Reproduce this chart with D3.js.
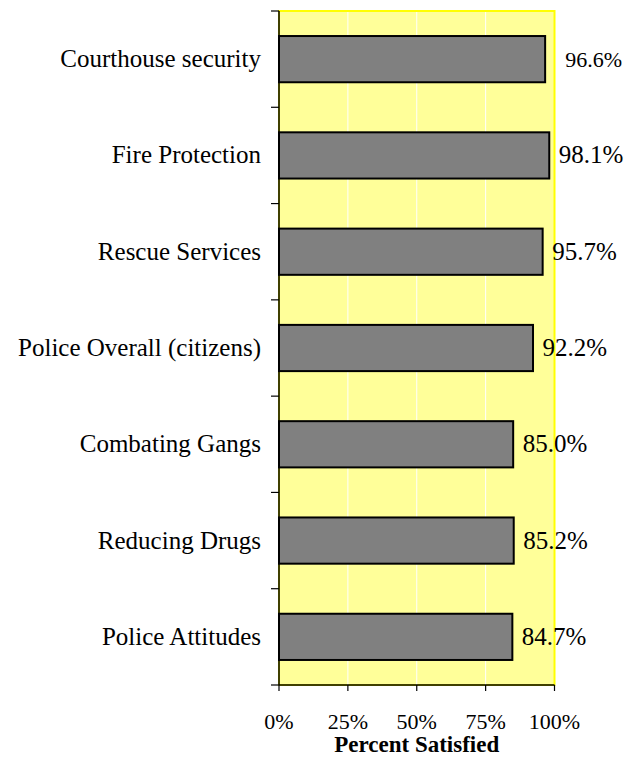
<!DOCTYPE html>
<html>
<head>
<meta charset="utf-8">
<script src="https://cdn.jsdelivr.net/npm/d3@7"></script>
<style>
  html, body { margin: 0; padding: 0; background: #ffffff; }
  svg { display: block; }
</style>
</head>
<body>
<svg id="chart" width="635" height="758"></svg>
<script>
// Satisfaction with public safety services
const categories = [
  "Courthouse security",
  "Fire Protection",
  "Rescue Services",
  "Police Overall (citizens)",
  "Combating Gangs",
  "Reducing Drugs",
  "Police Attitudes"
];
const satisfied = [96.6, 98.1, 95.7, 92.2, 85.0, 85.2, 84.7];
const xTicks = [0, 25, 50, 75, 100];
const xTitle = "Percent Satisfied";

const FONT = "'Liberation Serif', 'Times New Roman', 'DejaVu Serif', serif";

const svg = d3.select("#chart")
  .attr("font-family", FONT)
  .style("font-family", FONT);
const plot = { left: 279, right: 554.5, top: 11, bottom: 685 };

const x = d3.scaleLinear().domain([0, 100]).range([plot.left, plot.right]);
const y = d3.scaleBand().domain(categories).range([plot.top, plot.bottom]).paddingInner(0.52).paddingOuter(0.26);
const band = d3.scaleBand().domain(categories).range([plot.top, plot.bottom]);

// plot area
svg.append("rect")
  .attr("x", plot.left).attr("y", plot.top)
  .attr("width", plot.right - plot.left).attr("height", plot.bottom - plot.top)
  .attr("fill", "#FFFF99").attr("stroke", "#FFFF00").attr("stroke-width", 2);

// vertical gridlines
svg.append("g").selectAll("line")
  .data(xTicks.filter(t => t > 0 && t < 100))
  .join("line")
  .attr("x1", d => x(d)).attr("x2", d => x(d))
  .attr("y1", plot.top + 1).attr("y2", plot.bottom)
  .attr("stroke", "#ffffff").attr("stroke-width", 1);

// bars
svg.append("g").selectAll("rect")
  .data(satisfied)
  .join("rect")
  .attr("x", x(0))
  .attr("y", (d, i) => y(categories[i]))
  .attr("width", d => x(d) - x(0))
  .attr("height", y.bandwidth())
  .attr("fill", "#808080")
  .attr("stroke", "#000").attr("stroke-width", 2);

// value labels
svg.append("g").selectAll("text")
  .data(satisfied)
  .join("text")
  .attr("font-family", FONT)
  .attr("x", (d, i) => x(d) + (i === 0 ? 20 : 9.5))
  .attr("y", (d, i) => y(categories[i]) + y.bandwidth() / 2 + 8)
  .attr("font-size", (d, i) => i === 0 ? 22 : 25)
  .text(d => d.toFixed(1) + "%");

// left axis: line, boundary ticks, category labels
const yAxis = svg.append("g");
yAxis.append("line")
  .attr("x1", plot.left).attr("x2", plot.left)
  .attr("y1", plot.top).attr("y2", plot.bottom)
  .attr("stroke", "#000").attr("stroke-width", 1.5);
const bounds = categories.map(c => band(c)).concat([plot.bottom]);
yAxis.selectAll("line.tick")
  .data(bounds)
  .join("line").attr("class", "tick")
  .attr("x1", plot.left - 8).attr("x2", plot.left)
  .attr("y1", d => d).attr("y2", d => d)
  .attr("stroke", "#000").attr("stroke-width", 1.2);
yAxis.selectAll("text")
  .data(categories)
  .join("text")
  .attr("font-family", FONT)
  .attr("x", plot.left - 18)
  .attr("y", d => band(d) + band.bandwidth() / 2 + 8)
  .attr("text-anchor", "end")
  .attr("font-size", 25)
  .text(d => d);

// bottom axis
const xAxis = svg.append("g");
xAxis.append("line")
  .attr("x1", plot.left).attr("x2", plot.right)
  .attr("y1", plot.bottom).attr("y2", plot.bottom)
  .attr("stroke", "#000").attr("stroke-width", 1.5);
xAxis.selectAll("line.tick")
  .data(xTicks)
  .join("line").attr("class", "tick")
  .attr("x1", d => x(d)).attr("x2", d => x(d))
  .attr("y1", plot.bottom).attr("y2", plot.bottom + 6)
  .attr("stroke", "#000").attr("stroke-width", 1.2);
xAxis.selectAll("text")
  .data(xTicks)
  .join("text")
  .attr("font-family", FONT)
  .attr("x", d => x(d))
  .attr("y", 729)
  .attr("text-anchor", "middle")
  .attr("font-size", 22)
  .text(d => d + "%");

svg.append("text")
  .attr("font-family", FONT)
  .attr("x", (plot.left + plot.right) / 2)
  .attr("y", 752)
  .attr("text-anchor", "middle")
  .attr("font-size", 23)
  .attr("font-weight", "bold")
  .text(xTitle);
</script>
</body>
</html>
